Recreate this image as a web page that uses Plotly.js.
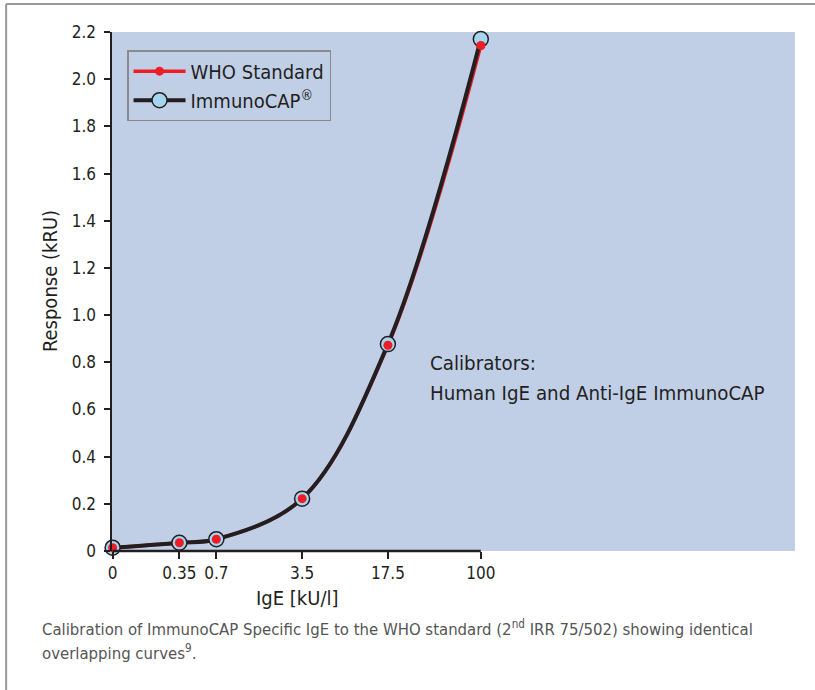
<!DOCTYPE html>
<html><head><meta charset="utf-8">
<script src="https://cdn.plot.ly/plotly-3.0.1.min.js"></script>
<style>html,body{margin:0;padding:0;background:#fff;}#chart{width:815px;height:690px;}</style>
</head><body><div id="chart"></div>
<script>
// Data
const igeLevels = [0, 0.35, 0.7, 3.5, 17.5, 100];          // kU/l
const tickLabels = ["0", "0.35", "0.7", "3.5", "17.5", "100"];
const whoResponse = [0.014, 0.035, 0.05, 0.222, 0.872, 2.143];   // kRU
const capResponse = [0.014, 0.035, 0.05, 0.222, 0.877, 2.17];    // kRU
const yTicks = [0, 0.2, 0.4, 0.6, 0.8, 1.0, 1.2, 1.4, 1.6, 1.8, 2.0, 2.2];
const yTickLabels = ["0", "0.2", "0.4", "0.6", "0.8", "1.0", "1.2", "1.4", "1.6", "1.8", "2.0", "2.2"];

// "0" is placed one decade below the first calibrator on the log axis
const ZERO_POS = 0.1;
const xPos = igeLevels.map(v => v === 0 ? ZERO_POS : v);

const FONT = '"DejaVu Sans Condensed", "Liberation Sans", Arial, sans-serif';
const BG = '#c0cfe6';
const INK = '#231f20';

const traces = [
  { x: xPos, y: whoResponse, name: 'WHO Standard', mode: 'lines+markers',
    line: {color: '#ee1c25', width: 3.5, shape: 'spline', smoothing: 1},
    marker: {color: '#ee1c25', size: 9}, cliponaxis: false },
  { x: xPos, y: capResponse, name: 'ImmunoCAP<sup>®</sup>', mode: 'lines+markers',
    line: {color: INK, width: 4, shape: 'spline', smoothing: 1},
    marker: {color: '#a6d5f0', size: 15, line: {color: INK, width: 1.5}}, cliponaxis: false },
  { x: xPos, y: whoResponse, name: 'WHO Standard', mode: 'markers', showlegend: false,
    marker: {color: '#ee1c25', size: 9}, cliponaxis: false }
];

const layout = {
  width: 815, height: 690,
  margin: {l: 112, r: 20, t: 32, b: 139},
  paper_bgcolor: '#ffffff', plot_bgcolor: BG,
  font: {family: FONT, color: INK, size: 17},
  showlegend: true,
  legend: {x: 0.022, y: 0.965, xanchor: 'left', yanchor: 'top',
    bgcolor: BG, bordercolor: '#8a8a8a', borderwidth: 1.5,
    font: {family: FONT, size: 20, color: INK}, tracegroupgap: 0, itemwidth: 52},
  xaxis: { type: 'log', range: [-1.005, 4.56], tickmode: 'array', tickvals: xPos, ticktext: tickLabels,
    showgrid: false, zeroline: false, showline: false, ticks: 'outside', ticklen: 7, tickwidth: 2,
    tickcolor: INK, tickfont: {size: 17, family: FONT}, fixedrange: true },
  yaxis: { range: [0, 2.2], tickmode: 'array', tickvals: yTicks, ticktext: yTickLabels,
    showgrid: false, zeroline: false, showline: true, linecolor: INK, linewidth: 2.5,
    ticks: 'outside', ticklen: 6, tickwidth: 2, tickcolor: INK, ticklabelstandoff: 4,
    tickfont: {size: 17, family: FONT} },
  shapes: [
    {type: 'line', xref: 'x', yref: 'paper', x0: ZERO_POS, x1: 100, y0: 0, y1: 0,
      line: {color: INK, width: 2.5}},
    {type: 'line', xref: 'paper', yref: 'paper', x0: -0.155, x1: 1.03, y0: 1.054, y1: 1.054,
      line: {color: '#999999', width: 2}},
    {type: 'line', xref: 'paper', yref: 'paper', x0: -0.155, x1: -0.155, y0: 1.054, y1: -0.3,
      line: {color: '#999999', width: 2}}
  ],
  annotations: [
    {xref: 'paper', yref: 'paper', x: -0.0908, y: 0.52, xanchor: 'center', yanchor: 'middle',
      textangle: -90, showarrow: false, text: 'Response (kRU)', font: {size: 20, family: FONT, color: INK}},
    {xref: 'paper', yref: 'paper', x: 0.271, y: -0.0906, xanchor: 'center', yanchor: 'middle',
      showarrow: false, text: 'IgE [kU/l]', font: {size: 20, family: FONT, color: INK}},
    {xref: 'paper', yref: 'paper', x: 0.463, y: 0.362, xanchor: 'left', yanchor: 'middle',
      showarrow: false, text: 'Calibrators:', font: {size: 20.3, family: FONT, color: INK}},
    {xref: 'paper', yref: 'paper', x: 0.463, y: 0.304, xanchor: 'left', yanchor: 'middle',
      showarrow: false, text: 'Human IgE and Anti-IgE ImmunoCAP', font: {size: 20.3, family: FONT, color: INK}},
    {xref: 'paper', yref: 'paper', x: -0.1054, y: -0.1484, xanchor: 'left', yanchor: 'middle',
      showarrow: false,
      text: 'Calibration of ImmunoCAP Specific IgE to the WHO standard (2<sup>nd</sup> IRR 75/502) showing identical',
      font: {size: 16.6, family: FONT, color: '#555555'}},
    {xref: 'paper', yref: 'paper', x: -0.1054, y: -0.1946, xanchor: 'left', yanchor: 'middle',
      showarrow: false, text: 'overlapping curves<sup>9</sup>.',
      font: {size: 16.6, family: FONT, color: '#555555'}}
  ]
};

Plotly.newPlot('chart', traces, layout, {displayModeBar: false, staticPlot: true});
</script></body></html>
